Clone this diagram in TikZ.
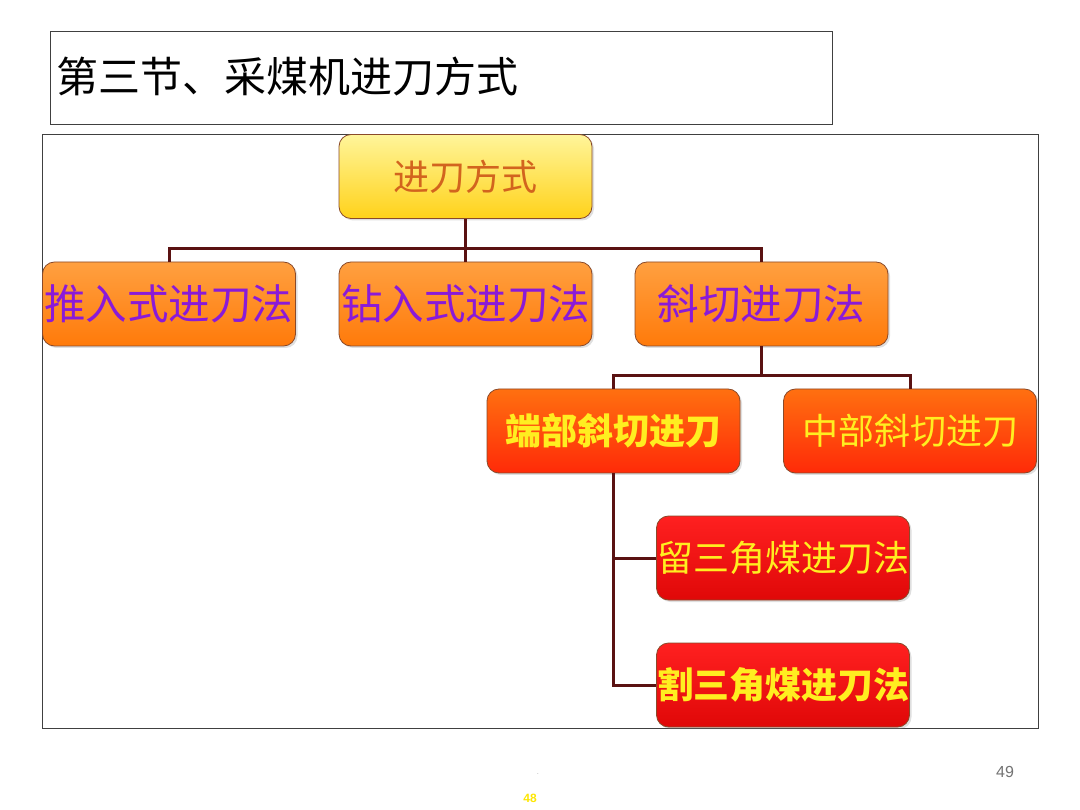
\documentclass[tikz,border=0pt]{standalone}
\usepackage{fontspec}
\setmainfont{Liberation Sans}
\newfontfamily\cjk{Noto Sans CJK SC}
\usetikzlibrary{shadows}
\definecolor{linec}{HTML}{5A1212}
\definecolor{boxborder}{HTML}{8A4A2A}
\definecolor{ylwtop}{HTML}{FFF59A}
\definecolor{ylwbot}{HTML}{FFD21A}
\definecolor{orgtop}{HTML}{FFA040}
\definecolor{orgbot}{HTML}{FF7A0A}
\definecolor{rotop}{HTML}{FF7010}
\definecolor{robot}{HTML}{FF2A08}
\definecolor{redtop}{HTML}{FF2020}
\definecolor{redbot}{HTML}{E00808}
\definecolor{toptext}{HTML}{D2641E}
\definecolor{purtext}{HTML}{8A1AD8}
\definecolor{ylwtext}{HTML}{FFEE20}
\tikzset{
  base/.style={draw=boxborder, line width=0.8pt, rounded corners=12pt,
    minimum width=253pt, minimum height=84pt, inner sep=0pt, align=center,
    drop shadow={shadow xshift=2pt, shadow yshift=-2pt, opacity=0.25}},
  topbox/.style={base, top color=ylwtop, bottom color=ylwbot, text=toptext,
    font=\cjk\fontsize{36}{40}\selectfont},
  lvlone/.style={base, top color=orgtop, bottom color=orgbot, text=purtext,
    font=\cjk\fontsize{41.5}{44}\selectfont},
  lvltwo/.style={base, top color=rotop, bottom color=robot, text=ylwtext,
    font=\cjk\fontsize{36}{40}\selectfont},
  lvlthree/.style={base, top color=redtop, bottom color=redbot, text=ylwtext,
    font=\cjk\fontsize{36}{40}\selectfont},
  conn/.style={draw=linec, line width=3pt},
  frame/.style={draw=black!75, line width=0.6pt}
}
\begin{document}
\begin{tikzpicture}[x=1pt,y=-1pt]
\useasboundingbox[fill=white] (0,0) rectangle (1080,810);
% title box
\node[frame, minimum width=782pt, minimum height=93pt, inner sep=0pt] (titlebox) at (441,77.5) {};
\node[anchor=west, inner sep=0pt, font=\cjk\fontsize{42}{46}\selectfont] (title) at (56,77) {第三节、采煤机进刀方式};
% main frame
\node[frame, minimum width=996pt, minimum height=594pt, inner sep=0pt] (mainframe) at (540,431) {};
% nodes
\node[topbox] (top) at (465.5,176.5) {进刀方式};
\node[lvlone] (n1) at (169,304) {推入式进刀法};
\node[lvlone] (n2) at (465.5,304) {钻入式进刀法};
\node[lvlone] (n3) at (761.5,304) {斜切进刀法};
\node[lvltwo] (m1) at (613.5,431) {\textbf{端部斜切进刀}};
\node[lvltwo] (m2) at (910,431) {中部斜切进刀};
\node[lvlthree] (k1) at (783,558) {留三角煤进刀法};
\node[lvlthree] (k2) at (783,685) {\textbf{割三角煤进刀法}};
% connectors
\draw[conn] (top.south) -- ++(0,30) coordinate (b1);
\draw[conn] (b1) -| (n1.north);
\draw[conn] (b1) -| (n3.north);
\draw[conn] (b1) -- (n2.north);
\draw[conn] (n3.south) -- ++(0,29) coordinate (b2);
\draw[conn] (b2) -| (m1.north);
\draw[conn] (b2) -| (m2.north);
\draw[conn] (m1.south) |- (k2.west);
\draw[conn] (m1.south |- k1.west) -- (k1.west);
% page numbers
\node[text=black!55, font=\fontsize{16}{18}\selectfont] (pg) at (1005,772) {49};
\node[text=black!50, font=\fontsize{6}{7}\selectfont] (dot) at (538,774) {.};
\node[text=yellow!90!orange, font=\bfseries\fontsize{12}{13}\selectfont] (pg2) at (530,798) {48};
\end{tikzpicture}
\end{document}
